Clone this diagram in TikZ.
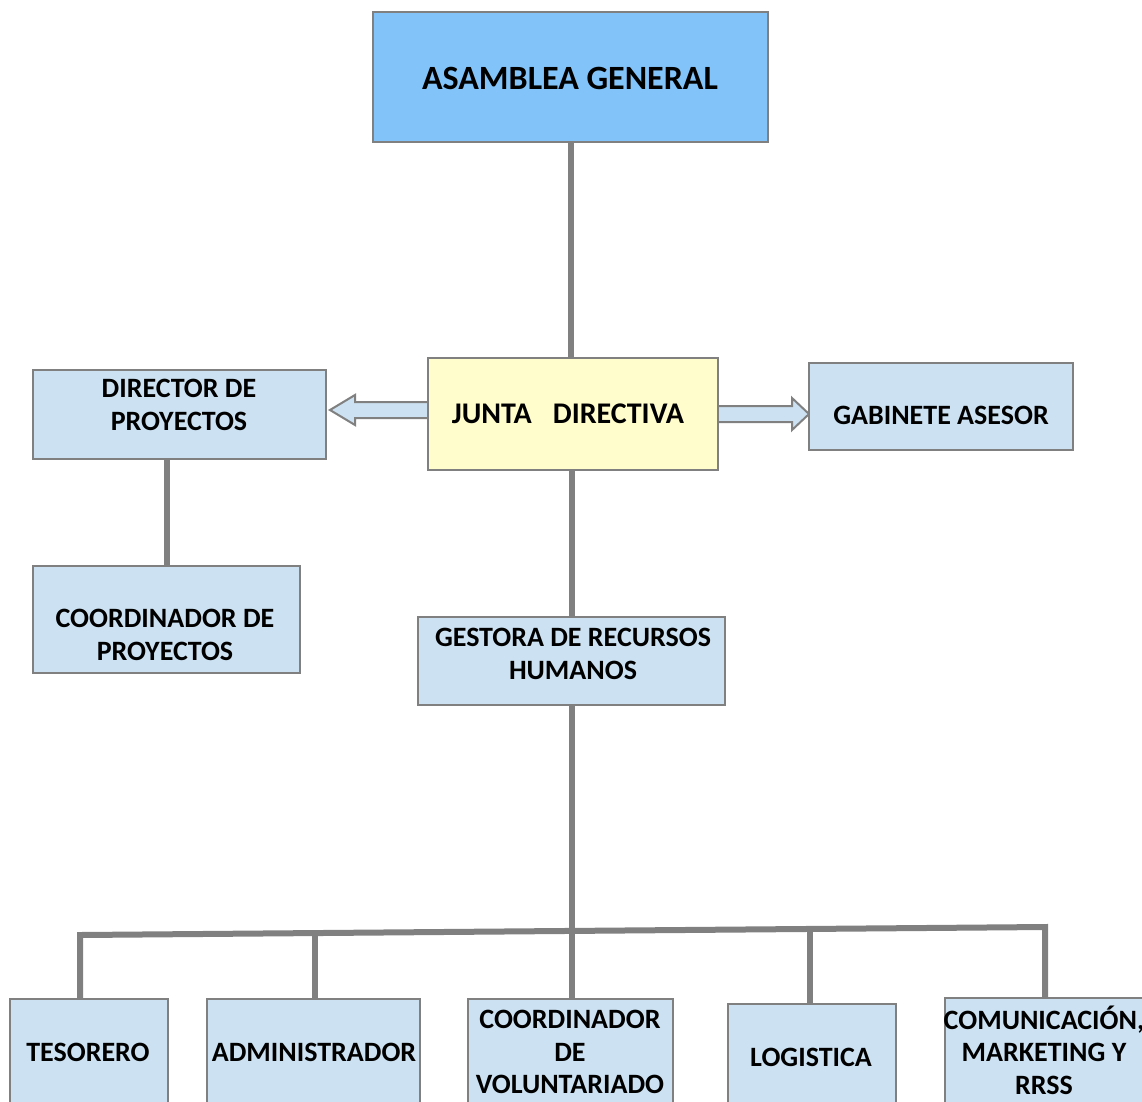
\documentclass[tikz,border=0pt]{standalone}
\usepackage{fontspec}
\setmainfont{Carlito}
\usetikzlibrary{calc}
\definecolor{boxblue}{RGB}{204,226,242}
\definecolor{topblue}{RGB}{130,196,250}
\definecolor{juntay}{RGB}{255,253,204}
\definecolor{lgray}{RGB}{128,128,128}
\tikzset{
  box/.style={draw=lgray, line width=2pt, fill=boxblue, inner sep=0pt},
  lbl/.style={font=\fontsize{28}{33}\selectfont\bfseries, align=center, inner sep=0pt, text=black},
  conn/.style={draw=lgray, line width=6pt, line join=miter},
  blockarrow/.style={draw=lgray, line width=2pt, fill=boxblue, line join=miter}
}
\begin{document}
\begin{tikzpicture}[x=1pt,y=-1pt]
\useasboundingbox (0,0) rectangle (1142,1101);
\clip (0,0) rectangle (1142,1101);
\fill[white] (0,0) rectangle (1142,1101);

% box centres
\path
  (570.5,77)   coordinate (c-ag)
  (573,414)    coordinate (c-jd)
  (179.5,414.5) coordinate (c-dp)
  (941,406.5)  coordinate (c-ga)
  (166.5,619.5) coordinate (c-cp)
  (571.5,661)  coordinate (c-gr)
  (89,1057)    coordinate (c-te)
  (313.5,1057) coordinate (c-ad)
  (570.5,1057) coordinate (c-cv)
  (812,1059.5) coordinate (c-lo)
  (1047.5,1056.5) coordinate (c-co);

% geometry nodes so connectors can use anchors
\node[inner sep=0pt, minimum width=395pt, minimum height=130pt] (ag) at (c-ag) {};
\node[inner sep=0pt, minimum width=290pt, minimum height=112pt] (jd) at (c-jd) {};
\node[inner sep=0pt, minimum width=293pt, minimum height=89pt] (dp) at (c-dp) {};
\node[inner sep=0pt, minimum width=264pt, minimum height=87pt] (ga) at (c-ga) {};
\node[inner sep=0pt, minimum width=267pt, minimum height=107pt] (cp) at (c-cp) {};
\node[inner sep=0pt, minimum width=307pt, minimum height=88pt] (gr) at (c-gr) {};
\node[inner sep=0pt, minimum width=158pt, minimum height=116pt] (te) at (c-te) {};
\node[inner sep=0pt, minimum width=213pt, minimum height=116pt] (ad) at (c-ad) {};
\node[inner sep=0pt, minimum width=205pt, minimum height=116pt] (cv) at (c-cv) {};
\node[inner sep=0pt, minimum width=168pt, minimum height=111pt] (lo) at (c-lo) {};
\node[inner sep=0pt, minimum width=205pt, minimum height=117pt] (co) at (c-co) {};

% connectors
\draw[conn] (ag.south) -- (ag.south |- jd.north);
\draw[conn] (gr.north |- jd.south) -- (gr.north);
\draw[conn] (cp.north |- dp.south) -- (cp.north);
\draw[conn] (gr.south) -- (gr.south |- cv.north);
\coordinate (b1) at (80,935);
\coordinate (b2) at (315,933);
\coordinate (b4) at (810,929);
\coordinate (b5) at (1045,927);
\draw[conn] (b1 |- te.north) -- (b1) -- (b5) -- (b5 |- co.north);
\draw[conn] (b2) -- (b2 |- ad.north);
\draw[conn] (b4) -- (b4 |- lo.north);

% block arrows
\filldraw[blockarrow] (jd.west |- 0,402) -- (355,402) -- (355,395) -- (330,410)
  -- (355,425) -- (355,418) -- (jd.west |- 0,418);
\filldraw[blockarrow] (jd.east |- 0,406) -- (792,406) -- (792,398) -- (809,414)
  -- (792,430) -- (792,422) -- (jd.east |- 0,422);

% boxes
\node[box, fill=topblue, minimum width=395pt, minimum height=130pt] at (c-ag) {};
\node[box, fill=juntay, minimum width=290pt, minimum height=112pt] at (c-jd) {};
\node[box, minimum width=293pt, minimum height=89pt] at (c-dp) {};
\node[box, minimum width=264pt, minimum height=87pt] at (c-ga) {};
\node[box, minimum width=267pt, minimum height=107pt] at (c-cp) {};
\node[box, minimum width=307pt, minimum height=88pt] at (c-gr) {};
\node[box, minimum width=158pt, minimum height=116pt] at (c-te) {};
\node[box, minimum width=213pt, minimum height=116pt] at (c-ad) {};
\node[box, minimum width=205pt, minimum height=116pt] at (c-cv) {};
\node[box, minimum width=168pt, minimum height=111pt] at (c-lo) {};
\node[box, minimum width=205pt, minimum height=117pt] at (c-co) {};

% labels
\node[lbl, font=\fontsize{34}{40}\selectfont\bfseries] (ag-t) at (570,78) {ASAMBLEA GENERAL};
\node[lbl, font=\fontsize{30}{36}\selectfont\bfseries] (jd-t) at (568,414) {JUNTA\hspace{0.7em}DIRECTIVA};
\node[lbl] (dp-t) at (179,405) {DIRECTOR DE\\PROYECTOS};
\node[lbl] (ga-t) at (941,415) {GABINETE ASESOR};
\node[lbl] (cp-t) at (165,635) {COORDINADOR DE\\PROYECTOS};
\node[lbl] (gr-t) at (573,654) {GESTORA DE RECURSOS\\HUMANOS};
\node[lbl] (te-t) at (88,1052) {TESORERO};
\node[lbl] (ad-t) at (314,1052) {ADMINISTRADOR};
\node[lbl, font=\fontsize{28}{32.5}\selectfont\bfseries] (cv-t) at (570,1052) {COORDINADOR\\DE\\VOLUNTARIADO};
\node[lbl] (lo-t) at (811,1057) {LOGISTICA};
\node[lbl, font=\fontsize{28}{32.5}\selectfont\bfseries] (co-t) at (1044,1050) {COMUNICACIÓN,\\MARKETING Y\\RRSS};
\end{tikzpicture}
\end{document}
